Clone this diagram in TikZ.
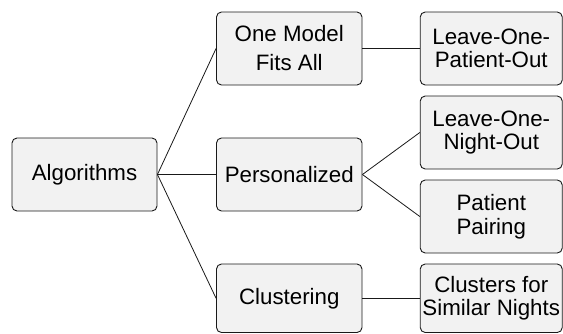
\documentclass[tikz,border=0pt]{standalone}
\usepackage{fontspec}
\setmainfont{Liberation Sans}
\begin{document}
\begin{tikzpicture}[x=1pt,y=-1pt,
  box/.style={draw=black!90,fill=black!5,rounded corners=5pt,line width=0.9pt,
    inner sep=0pt,align=center,font=\fontsize{22.3}{23.5}\selectfont},
  midbox/.style={box,minimum width=145.5pt,minimum height=73pt},
  rbox/.style={box,minimum width=142pt,minimum height=73pt},
  conn/.style={draw=black!90,line width=0.8pt}]
\useasboundingbox (0,0) rectangle (563,333);
\node[box,minimum width=145pt,minimum height=73pt] (alg) at (84.5,174.5) {Algorithms};
\node[midbox,font=\fontsize{22.3}{29}\selectfont] (om) at (289.25,48.5) {One Model\\Fits All};
\node[midbox] (pers) at (289.25,174.5) {Personalized};
\node[midbox,minimum height=68.5pt] (clus) at (289.25,298.25) {Clustering};
\node[rbox] (lopo) at (491.25,48.5) {Leave-One-\\Patient-Out};
\node[rbox] (lono) at (491.25,132.5) {Leave-One-\\Night-Out};
\node[rbox] (pp) at (491.25,216.5) {Patient\\Pairing};
\node[rbox,minimum height=68.5pt] (cs) at (491.25,298.25) {Clusters for\\Similar Nights};
\draw[conn] (alg.east) -- (om.west);
\draw[conn] (alg.east) -- (pers.west);
\draw[conn] (alg.east) -- (clus.west);
\draw[conn] (om.east) -- (lopo.west);
\draw[conn] (pers.east) -- (lono.west);
\draw[conn] (pers.east) -- (pp.west);
\draw[conn] (clus.east) -- (cs.west);
\end{tikzpicture}
\end{document}
